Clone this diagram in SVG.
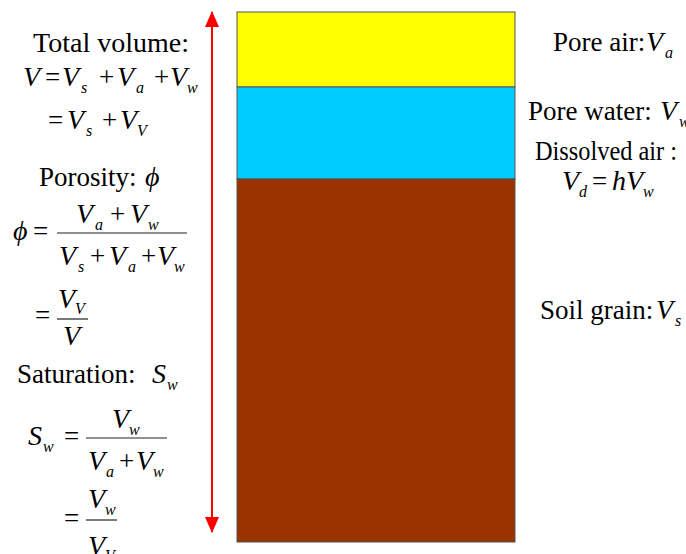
<svg xmlns="http://www.w3.org/2000/svg" width="686" height="554" viewBox="0 0 686 554">
<style>
text{font-family:"Liberation Serif","Times New Roman",serif;fill:#000}
.r{font-size:27px}
.i{font-size:28px;font-style:italic}
.s{font-size:16px;font-style:italic}
.fl{stroke:#222;stroke-width:1.2}
.layer{stroke:#555;stroke-width:1}
</style>
<defs>
<marker id="ah" viewBox="0 0 16 14" refX="15" refY="7" markerWidth="16" markerHeight="14" markerUnits="userSpaceOnUse" orient="auto">
<path d="M0,0 L16,7 L0,14 Z" fill="#FF0000"/>
</marker>
</defs>
<rect width="686" height="554" fill="#fff"/>

<g id="layers">
<rect id="pore-air" class="layer" x="237" y="12" width="278" height="75" fill="#FFFF00"/>
<rect id="pore-water" class="layer" x="237" y="87" width="278" height="92" fill="#00CCFF"/>
<rect id="soil-grain" class="layer" x="237" y="179" width="278" height="363" fill="#993300"/>
</g>

<g id="connectors">
<line x1="212" y1="272" x2="212" y2="12" stroke="#FF0000" stroke-width="2" marker-end="url(#ah)"/>
<line x1="212" y1="272" x2="212" y2="532" stroke="#FF0000" stroke-width="2" marker-end="url(#ah)"/>
</g>

<g id="total-volume">
<text class="r" x="33" y="52" textLength="156" lengthAdjust="spacingAndGlyphs">Total volume:</text>
<text class="i" x="23" y="86">V</text>
<text class="r" x="45" y="86">=</text>
<text class="i" x="62" y="86">V</text>
<text class="s" x="81" y="93">s</text>
<text class="r" x="99" y="86">+</text>
<text class="i" x="117" y="86">V</text>
<text class="s" x="136" y="93">a</text>
<text class="r" x="154" y="86">+</text>
<text class="i" x="170" y="86">V</text>
<text class="s" x="187" y="93">w</text>
<text class="r" x="48" y="129">=</text>
<text class="i" x="67" y="129">V</text>
<text class="s" x="86" y="136">s</text>
<text class="r" x="102" y="129">+</text>
<text class="i" x="120" y="129">V</text>
<text class="s" x="137" y="136">V</text>
</g>

<g id="porosity">
<text class="r" x="39" y="186">Porosity:</text>
<text class="i" x="145" y="186">ϕ</text>
<text class="i" x="13" y="240">ϕ</text>
<text class="r" x="33" y="240">=</text>
<line class="fl" x1="57" y1="233" x2="187" y2="233"/>
<text class="i" x="76" y="223">V</text>
<text class="s" x="95" y="230">a</text>
<text class="r" x="110" y="223">+</text>
<text class="i" x="130" y="223">V</text>
<text class="s" x="148" y="230">w</text>
<text class="i" x="59" y="265">V</text>
<text class="s" x="78" y="272">s</text>
<text class="r" x="90" y="265">+</text>
<text class="i" x="109" y="265">V</text>
<text class="s" x="128" y="272">a</text>
<text class="r" x="141" y="265">+</text>
<text class="i" x="157" y="265">V</text>
<text class="s" x="174" y="272">w</text>
<text class="r" x="35" y="324">=</text>
<line class="fl" x1="57" y1="319" x2="88" y2="319"/>
<text class="i" x="58" y="308">V</text>
<text class="s" x="75" y="314">V</text>
<text class="i" x="63" y="345">V</text>
</g>

<g id="saturation">
<text class="r" x="17" y="383">Saturation:</text>
<text class="i" x="152" y="383">S</text>
<text class="s" x="167" y="390">w</text>
<text class="i" x="28" y="445">S</text>
<text class="s" x="43" y="452">w</text>
<text class="r" x="64" y="445">=</text>
<line class="fl" x1="86" y1="438" x2="167" y2="438"/>
<text class="i" x="112" y="428">V</text>
<text class="s" x="129" y="435">w</text>
<text class="i" x="88" y="470">V</text>
<text class="s" x="106" y="477">a</text>
<text class="r" x="119" y="470">+</text>
<text class="i" x="136" y="470">V</text>
<text class="s" x="153" y="477">w</text>
<text class="r" x="64" y="527">=</text>
<line class="fl" x1="86" y1="520" x2="117" y2="520"/>
<text class="i" x="88" y="508">V</text>
<text class="s" x="105" y="515">w</text>
<text class="i" x="88" y="555">V</text>
<text class="s" x="105" y="561">V</text>
</g>

<g id="label-pore-air">
<text class="r" x="553" y="51">Pore air:</text>
<text class="i" x="646" y="51">V</text>
<text class="s" x="665" y="58">a</text>
</g>

<g id="label-pore-water">
<text class="r" x="528" y="120">Pore water:</text>
<text class="i" x="660" y="120">V</text>
<text class="s" x="679" y="127">w</text>
<text class="r" x="535" y="160" textLength="142" lengthAdjust="spacingAndGlyphs">Dissolved air :</text>
<text class="i" x="562" y="190">V</text>
<text class="s" x="579" y="197">d</text>
<text class="r" x="592" y="190">=</text>
<text class="i" x="612" y="190">h</text>
<text class="i" x="626" y="190">V</text>
<text class="s" x="643" y="197">w</text>
</g>

<g id="label-soil-grain">
<text class="r" x="540" y="319">Soil grain:</text>
<text class="i" x="656" y="319">V</text>
<text class="s" x="675" y="326">s</text>
</g>
</svg>
